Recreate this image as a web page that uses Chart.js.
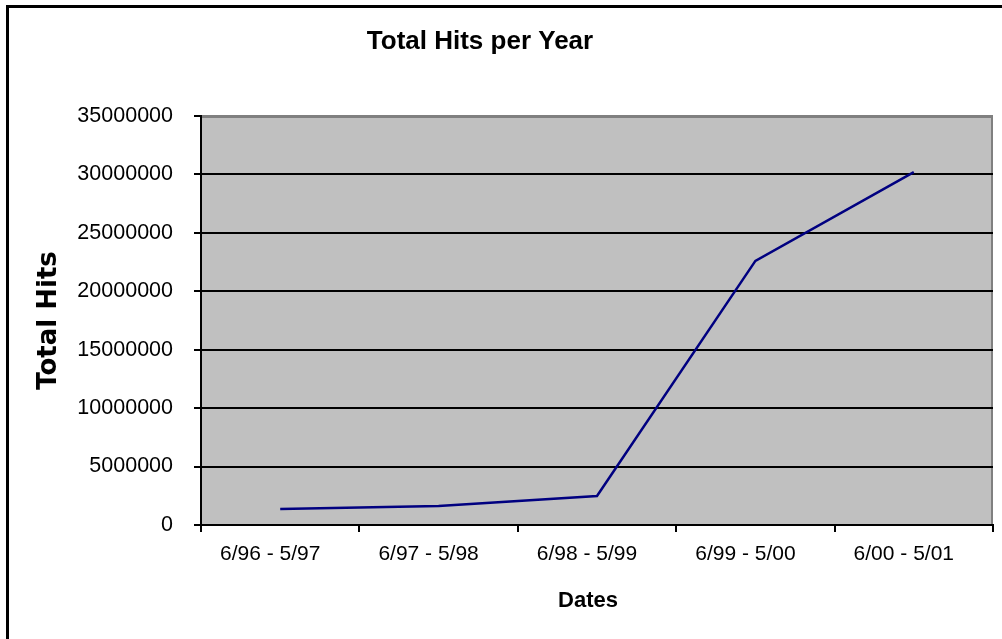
<!DOCTYPE html>
<html>
<head>
<meta charset="utf-8">
<script src="https://cdn.jsdelivr.net/npm/chart.js@4"></script>
<style>
  body { margin: 0; background: #fff; }
  #wrap { width: 1002px; height: 639px; }
</style>
</head>
<body>
<div id="wrap"><canvas id="myChart" width="1002" height="639"></canvas></div>
<script>
// data
var dates = ['6/96 - 5/97', '6/97 - 5/98', '6/98 - 5/99', '6/99 - 5/00', '6/00 - 5/01'];
var hits = [1370000, 1630000, 2480000, 22600000, 30200000];
var yMax = 35000000;
var yStep = 5000000;

// gray plot background, frame, chart title and x axis title
var excelLook = {
    id: 'excelLook',
    beforeDraw: function(chart) {
        var ctx = chart.ctx;
        var a = chart.chartArea;
        ctx.save();
        ctx.fillStyle = '#fff';
        ctx.fillRect(0, 0, chart.width, chart.height);
        // outer frame, top + left only
        ctx.fillStyle = '#000';
        ctx.fillRect(6, 5, chart.width - 6, 3);
        ctx.fillRect(6, 5, 3, chart.height - 5);
        // plot area
        ctx.fillStyle = '#c0c0c0';
        ctx.fillRect(a.left, a.top, a.right - a.left, a.bottom - a.top);
        ctx.strokeStyle = '#808080';
        ctx.lineWidth = 2;
        ctx.beginPath();
        ctx.moveTo(a.left, a.top + 1);
        ctx.lineTo(a.right - 1, a.top + 1);
        ctx.lineTo(a.right - 1, a.bottom);
        ctx.stroke();
        // titles
        ctx.fillStyle = '#000';
        ctx.textAlign = 'center';
        ctx.textBaseline = 'alphabetic';
        ctx.font = 'bold 26px "Liberation Sans", Arial, sans-serif';
        ctx.fillText('Total Hits per Year', 480, 49);
        ctx.font = 'bold 22px "Liberation Sans", Arial, sans-serif';
        ctx.fillText('Dates', 588, 607);
        ctx.restore();
    }
};

const ctx = document.getElementById('myChart');
const myChart = new Chart(ctx, {
    type: 'line',
    data: {
        labels: dates,
        datasets: [{
            label: 'Total Hits',
            data: hits,
            borderColor: '#000080',
            borderWidth: 2.5,
            pointRadius: 0,
            tension: 0,
            fill: false
        }]
    },
    options: {
        responsive: false,
        animation: false,
        devicePixelRatio: 1,
        layout: {
            padding: { left: 0, top: 116, right: 9, bottom: 0 }
        },
        plugins: {
            legend: { display: false },
            title: { display: false },
            tooltip: { enabled: false }
        },
        scales: {
            x: {
                offset: true,
                afterFit: function(scale) { scale.height = 114; },
                border: { color: '#000', width: 2 },
                grid: {
                    offset: true,
                    drawOnChartArea: false,
                    color: '#000',
                    lineWidth: 2,
                    tickLength: 7
                },
                ticks: {
                    color: '#000',
                    padding: 10,
                    labelOffset: -10,
                    maxRotation: 0,
                    font: { family: '"Liberation Sans", Arial, sans-serif', size: 21 }
                }
            },
            y: {
                min: 0,
                max: yMax,
                afterFit: function(scale) { scale.width = 201; },
                border: { color: '#000', width: 2 },
                grid: {
                    color: function(c) { return c.tick && c.tick.value === yMax ? '#808080' : '#000'; },
                    tickColor: '#000',
                    lineWidth: 2,
                    tickLength: 7
                },
                ticks: {
                    stepSize: yStep,
                    color: '#000',
                    padding: 21,
                    callback: function(v) { return String(v); },
                    font: { family: '"Liberation Sans", Arial, sans-serif', size: 21.5 }
                },
                title: {
                    display: true,
                    text: 'Total Hits',
                    color: '#000',
                    padding: { top: 34, bottom: 0 },
                    font: { family: '"DejaVu Sans", Verdana, sans-serif', size: 26, weight: 'bold' }
                }
            }
        }
    },
    plugins: [excelLook]
});
</script>
</body>
</html>
